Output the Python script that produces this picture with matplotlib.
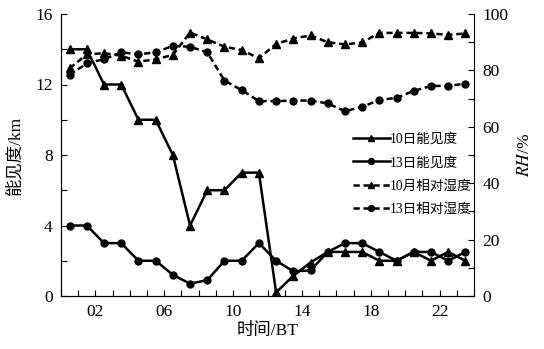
import matplotlib
matplotlib.use("Agg")
import matplotlib.pyplot as plt
from matplotlib.ticker import MultipleLocator

plt.rcParams['font.family'] = ['Liberation Serif', 'Noto Sans CJK SC']
plt.rcParams['mathtext.fontset'] = 'stix'

# hourly samples (BT), plotted at half-hour marks
hours = [h + 0.5 for h in range(24)]

# visibility, km
vis_10 = [14, 14, 12, 12, 10, 10, 8, 4, 6, 6, 7, 7,
          0.2, 1.15, 1.9, 2.5, 2.5, 2.5, 2.0, 2.0, 2.5, 2.0, 2.5, 2.0]
vis_13 = [4, 4, 3, 3, 2, 2, 1.2, 0.7, 0.9, 2, 2, 3,
          2, 1.4, 1.45, 2.5, 3, 3, 2.5, 2, 2.5, 2.5, 2, 2.5]

# relative humidity, %
rh_10 = [80.7, 85.7, 86.1, 85.2, 83.1, 83.9, 85.5, 93.4, 91.0, 88.4, 87.2, 84.3,
         89.4, 91.3, 92.4, 90.0, 89.2, 89.9, 93.3, 93.3, 93.3, 93.1, 92.6, 93.1]
rh_13 = [78.4, 82.5, 84.0, 86.4, 85.7, 86.4, 88.7, 88.4, 86.4, 76.4, 73.0, 69.1,
         69.1, 69.3, 69.3, 68.3, 65.5, 67.1, 69.5, 70.3, 72.7, 74.5, 74.5, 75.3]

xtick_pos = [2, 6, 10, 14, 18, 22]
xtick_labels = ['02', '06', '10', '14', '18', '22']

labels = ['10日能见度', '13日能见度', '10月相对湿度', '13日相对湿度']

fig = plt.figure(figsize=(5.44, 3.49), dpi=100)
fig.subplots_adjust(left=61/544, right=474/544, bottom=1-296/349, top=1-14/349)
ax = fig.add_subplot(111)
ax2 = ax.twinx()

lw = 1.8
l1, = ax.plot(hours, vis_10, color='black', lw=lw, marker='^', ms=5.5)
l2, = ax.plot(hours, vis_13, color='black', lw=lw, marker='o', ms=5)
l3, = ax2.plot(hours, rh_10, color='black', lw=lw, marker='^', ms=5.5,
               dashes=(2.5, 1.5))
l4, = ax2.plot(hours, rh_13, color='black', lw=lw, marker='o', ms=5,
               dashes=(2.5, 1.5))

ax.set_xlim(0, 24)
ax.set_ylim(0, 16)
ax2.set_ylim(0, 100)

ax.set_xticks(xtick_pos)
ax.set_xticklabels(xtick_labels)
ax.xaxis.set_minor_locator(MultipleLocator(1))
ax.yaxis.set_major_locator(MultipleLocator(4))
ax.yaxis.set_minor_locator(MultipleLocator(2))
ax2.yaxis.set_major_locator(MultipleLocator(20))
ax2.yaxis.set_minor_locator(MultipleLocator(10))

for a in (ax, ax2):
    a.spines['top'].set_visible(False)
    a.tick_params(which='both', direction='in', labelsize=12.5, width=0.8)
    a.tick_params(which='major', length=4, pad=6)
    a.tick_params(which='minor', length=4)
ax.tick_params(axis='x', pad=6)
ax.spines['right'].set_visible(False)

ax.set_xlabel('时间/BT', fontsize=12.5, labelpad=2)
ax.set_ylabel('能见度/km', fontsize=12.5, labelpad=8)
ax2.set_ylabel('$RH$/%', fontsize=12.5, labelpad=6, family='Liberation Serif')

leg = ax2.legend([l1, l2, l3, l4], labels, loc='upper left',
                 bbox_to_anchor=(292/413, 1-119/282), frameon=False,
                 fontsize=9.8, handlelength=2.7, handletextpad=0.0,
                 labelspacing=0.75, borderpad=0, borderaxespad=0,
                 markerscale=0.85)

fig.savefig('out.png', dpi=100)
